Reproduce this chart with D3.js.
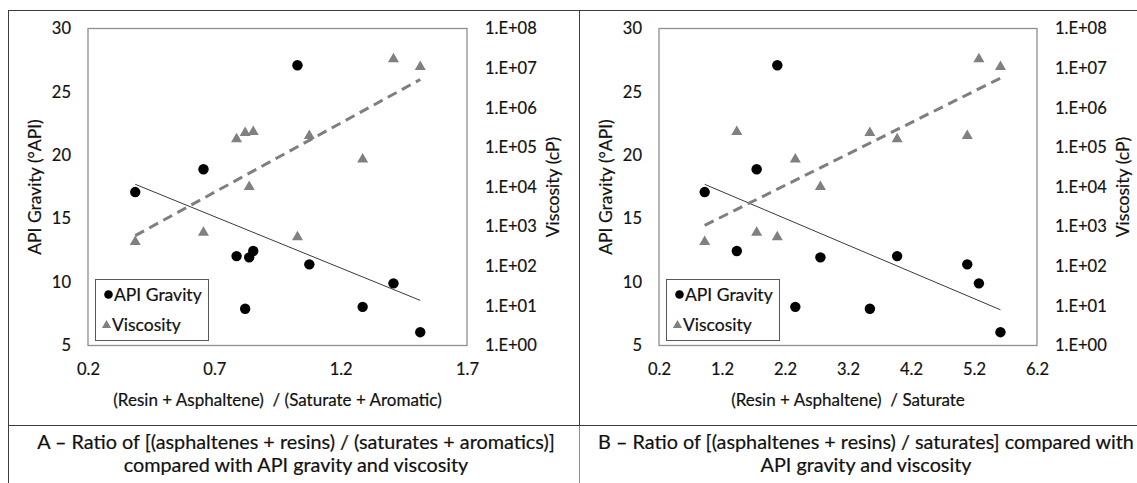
<!DOCTYPE html>
<html>
<head>
<meta charset="utf-8">
<script src="https://cdn.jsdelivr.net/npm/d3@7/dist/d3.min.js"></script>
<style>
  html, body { margin: 0; padding: 0; background: #fff; }
  svg { display: block; }
  text { font-family: Lato, "Open Sans", sans-serif; fill: #111; stroke: #111; stroke-width: 0.2px; }
</style>
</head>
<body>
<svg id="chart" width="1137" height="483"></svg>
<script>
// Crude oil samples: composition ratios against API gravity and viscosity
const ratioA = [0.387, 0.657, 0.788, 0.822, 0.838, 0.854, 1.029, 1.076, 1.287, 1.409, 1.515]; // (resin + asphaltene) / (saturate + aromatic)
const ratioB = [0.925, 1.75, 3.98, 3.547, 2.762, 1.435, 2.078, 5.093, 2.364, 5.278, 5.62];    // (resin + asphaltene) / saturate
const apiGravity = [17.1, 18.9, 12.05, 7.9, 11.95, 12.45, 27.1, 11.4, 8.05, 9.9, 6.05];         // °API
const viscosity = [450, 780, 178000, 257000, 11000, 270000, 600, 214000, 55000, 18600000, 11750000]; // cP

const apiTicks = [5, 10, 15, 20, 25, 30];
const viscTicks = [1e0, 1e1, 1e2, 1e3, 1e4, 1e5, 1e6, 1e7, 1e8];
const ratioATicks = [0.2, 0.7, 1.2, 1.7];
const ratioBTicks = [0.2, 1.2, 2.2, 3.2, 4.2, 5.2, 6.2];

const captionA = ["A \u2013 Ratio of [(asphaltenes + resins) / (saturates + aromatics)]",
                  "compared with API gravity and viscosity"];
const captionB = ["B \u2013 Ratio of [(asphaltenes + resins) / saturates] compared with",
                  "API gravity and viscosity"];

const svg = d3.select("#chart");
svg.append("rect").attr("width", 1137).attr("height", 483).attr("fill", "#fff");

// table frame around the two panels and their captions
const frame = svg.append("g").attr("fill", "none");
frame.append("line").attr("x1", 8).attr("x2", 1137).attr("y1", 10.5).attr("y2", 10.5).attr("stroke", "#3c3c3c");
frame.append("line").attr("x1", 8.5).attr("x2", 8.5).attr("y1", 10).attr("y2", 483).attr("stroke", "#3c3c3c");
frame.append("line").attr("x1", 579.5).attr("x2", 579.5).attr("y1", 10).attr("y2", 425).attr("stroke", "#3c3c3c");
frame.append("line").attr("x1", 579.5).attr("x2", 579.5).attr("y1", 425).attr("y2", 483).attr("stroke", "#8a8a8a");
frame.append("line").attr("x1", 8).attr("x2", 1137).attr("y1", 425.5).attr("y2", 425.5).attr("stroke", "#3c3c3c");

// triangle marker centred on its bounding box
const triangleType = {
  draw(ctx, size) {
    const w = Math.sqrt(size) * 1.45, h = w * 0.86;
    ctx.moveTo(0, -h / 2);
    ctx.lineTo(w / 2, h / 2);
    ctx.lineTo(-w / 2, h / 2);
    ctx.closePath();
  }
};

function linearFit(xs, ys) {
  const mx = d3.mean(xs), my = d3.mean(ys);
  let sxy = 0, sxx = 0;
  xs.forEach((x, i) => { sxy += (x - mx) * (ys[i] - my); sxx += (x - mx) * (x - mx); });
  const slope = sxy / sxx;
  return { slope, intercept: my - slope * mx };
}

function panel(opts) {
  const { x0, x1, xs, xTicks, xTitle } = opts;
  const y0 = 28.5, y1 = 345.5;
  const g = svg.append("g");

  const x = d3.scaleLinear().domain([xTicks[0], xTicks[xTicks.length - 1]]).range([x0, x1]);
  const y = d3.scaleLinear().domain([5, 30]).range([y1, y0]);
  const yv = d3.scaleLog().domain([1, 1e8]).range([y1, y0]);

  g.append("rect").attr("x", x0).attr("y", y0).attr("width", x1 - x0).attr("height", y1 - y0)
    .attr("fill", "none").attr("stroke", "#8f8f8f").attr("stroke-width", 1.3);

  const styleAxis = sel => {
    sel.select(".domain").remove();
    sel.attr("font-family", "Lato, sans-serif").attr("font-size", 16.5);
    sel.selectAll("text").attr("fill", "#111");
  };

  g.append("g").attr("transform", `translate(${x0},0)`)
    .call(d3.axisLeft(y).tickValues(apiTicks).tickSize(0).tickPadding(17).tickFormat(d3.format("d")))
    .call(styleAxis);

  g.append("g").attr("transform", `translate(${x1},0)`)
    .call(d3.axisRight(yv).tickValues(viscTicks).tickSize(0).tickPadding(18)
      .tickFormat(d => "1.E+" + String(Math.round(Math.log10(d))).padStart(2, "0")))
    .call(styleAxis);

  g.append("g").attr("transform", `translate(0,${y1})`)
    .call(d3.axisBottom(x).tickValues(xTicks).tickSize(0).tickPadding(18).tickFormat(d3.format(".1f")))
    .call(styleAxis);

  // axis titles
  const midY = (y0 + y1) / 2;
  g.append("text").attr("transform", `translate(${x0 - 54},${midY}) rotate(-90)`)
    .attr("text-anchor", "middle").attr("dominant-baseline", "central").attr("font-size", 17.5)
    .text("API Gravity (\u00B0API)");
  g.append("text").attr("transform", `translate(${x1 + 85},${midY}) rotate(-90)`)
    .attr("text-anchor", "middle").attr("dominant-baseline", "central").attr("font-size", 17.5)
    .text("Viscosity (cP)");
  g.append("text").attr("x", (x0 + x1) / 2).attr("y", 399)
    .attr("text-anchor", "middle").attr("dominant-baseline", "central").attr("font-size", 17)
    .style("white-space", "pre").text(xTitle);

  // trendlines: linear for API gravity, exponential for viscosity
  const xExt = d3.extent(xs);
  const lin = linearFit(xs, apiGravity);
  const expo = linearFit(xs, viscosity.map(v => Math.log10(v)));

  const markers = g.append("g");
  markers.selectAll("path.visc").data(xs).join("path").attr("class", "visc")
    .attr("transform", (d, i) => `translate(${x(d)},${yv(viscosity[i])})`)
    .attr("d", d3.symbol(triangleType, 58)()).attr("fill", "#808080");
  markers.selectAll("circle.api").data(xs).join("circle").attr("class", "api")
    .attr("cx", d => x(d)).attr("cy", (d, i) => y(apiGravity[i])).attr("r", 5.2).attr("fill", "#000");

  g.append("path")
    .attr("d", d3.line()(xExt.map(v => [x(v), y(lin.intercept + lin.slope * v)])))
    .attr("fill", "none").attr("stroke", "#3a3a3a").attr("stroke-width", 1);
  g.append("path")
    .attr("d", d3.line()(xExt.map(v => [x(v), yv(Math.pow(10, expo.intercept + expo.slope * v))])))
    .attr("fill", "none").attr("stroke", "#7f7f7f").attr("stroke-width", 3).attr("stroke-dasharray", "10,6");

  // legend
  const lg = g.append("g").attr("transform", `translate(${x0 + 7},279)`);
  lg.append("rect").attr("x", 0.5).attr("y", 0.5).attr("width", 113).attr("height", 61)
    .attr("fill", "#fff").attr("stroke", "#595959").attr("stroke-width", 1);
  lg.append("circle").attr("cx", 13.5).attr("cy", 15.5).attr("r", 4.3).attr("fill", "#000");
  lg.append("text").attr("x", 19).attr("y", 15.5).attr("dominant-baseline", "central")
    .attr("font-size", 17.5).text("API Gravity");
  lg.append("path").attr("transform", "translate(11.5,45)")
    .attr("d", d3.symbol(triangleType, 40)()).attr("fill", "#808080");
  lg.append("text").attr("x", 17).attr("y", 45).attr("dominant-baseline", "central")
    .attr("font-size", 17.5).text("Viscosity");
}

panel({ x0: 88, x1: 467, xs: ratioA, xTicks: ratioATicks,
        xTitle: "(Resin + Asphaltene)  / (Saturate + Aromatic)" });
panel({ x0: 659, x1: 1037, xs: ratioB, xTicks: ratioBTicks,
        xTitle: "(Resin + Asphaltene)  / Saturate" });

// captions under each panel, set in a condensed face
function caption(lines, cx) {
  const g = svg.append("g");
  const texts = lines.map((line, i) => g.append("text")
    .attr("x", 0).attr("y", i === 0 ? 449 : 472)
    .attr("text-anchor", "middle").attr("font-size", 19.5).text(line));
  return { g, texts, cx };
}
const capA = caption(captionA, 296);
const capB = caption(captionB, 866);
const squeeze = 518 / capA.texts[0].node().getComputedTextLength();
[capA, capB].forEach(c => c.g.attr("transform", `translate(${c.cx},0) scale(${squeeze},1)`));
</script>
</body>
</html>
